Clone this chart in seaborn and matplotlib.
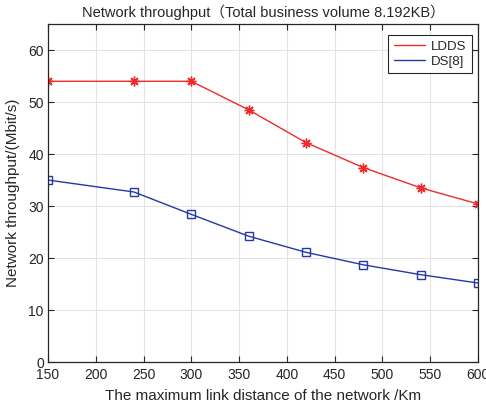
import matplotlib
matplotlib.use("Agg")
import matplotlib.pyplot as plt
import seaborn as sns
import pandas as pd

# Maximum link distance (km) and throughput (Mbit/s) for each scheme
distance_km = [150, 240, 300, 360, 420, 480, 540, 600]
ldds_throughput = [54.0, 54.0, 54.0, 48.5, 42.2, 37.4, 33.5, 30.4]
ds8_throughput = [35.0, 32.7, 28.4, 24.2, 21.1, 18.7, 16.8, 15.2]

x_ticks = [150, 200, 250, 300, 350, 400, 450, 500, 550, 600]
y_ticks = [0, 10, 20, 30, 40, 50, 60]

sns.set_theme(style="whitegrid")
plt.rcParams["font.family"] = ["Liberation Sans", "Noto Sans CJK SC", "DejaVu Sans"]

df = pd.DataFrame({
    "distance": distance_km * 2,
    "throughput": ldds_throughput + ds8_throughput,
    "scheme": ["LDDS"] * len(distance_km) + ["DS[8]"] * len(distance_km),
})

fig = plt.figure(figsize=(4.86, 4.08), dpi=100)
ax = fig.add_axes([0.0988, 0.1127, 0.8847, 0.8283])

red = "#f02a2a"
blue = "#2538a8"

sns.lineplot(data=df[df.scheme == "LDDS"], x="distance", y="throughput",
             color=red, linewidth=1.0, marker=(8, 2, 0), markersize=7,
             markeredgecolor=red, markeredgewidth=1.0, label="LDDS", ax=ax)
sns.lineplot(data=df[df.scheme == "DS[8]"], x="distance", y="throughput",
             color=blue, linewidth=1.0, marker="s", markersize=6,
             markerfacecolor="none", markeredgecolor=blue, markeredgewidth=1.0,
             label="DS[8]", ax=ax)

ax.set_xlim(150, 600)
ax.set_ylim(0, 65)
ax.set_xticks(x_ticks)
ax.set_yticks(y_ticks)
ax.set_facecolor("white")
ax.grid(True, color="#e3e3e3", linewidth=0.8)

for side in ["left", "right", "top", "bottom"]:
    ax.spines[side].set_visible(True)
    ax.spines[side].set_color("#262626")
    ax.spines[side].set_linewidth(0.9)

ax.tick_params(axis="both", which="both", direction="in", length=4,
               width=0.8, color="#262626", labelsize=10, labelcolor="#262626",
               top=True, right=True, bottom=True, left=True, pad=3)
ax.tick_params(axis="x", pad=4)

ax.set_xlabel("The maximum link distance of the network /Km", fontsize=11,
              color="#262626", labelpad=5)
ax.set_ylabel("Network throughput/(Mbit/s)", fontsize=11, color="#262626",
              labelpad=6)
ax.set_title("Network throughput（Total business volume 8.192KB）", fontsize=10.5,
             color="#262626", pad=5)

leg = ax.legend(loc="upper right", fontsize=9.5, frameon=True, fancybox=False,
                edgecolor="#262626", framealpha=1, borderaxespad=0.0,
                bbox_to_anchor=(0.986, 0.967),
                handlelength=2.4, handletextpad=0.45, borderpad=0.4,
                labelspacing=0.2, markerscale=0)
leg.get_frame().set_linewidth(0.8)
for h in leg.get_lines():
    h.set_marker("")

fig.savefig("out.png", dpi=100)
